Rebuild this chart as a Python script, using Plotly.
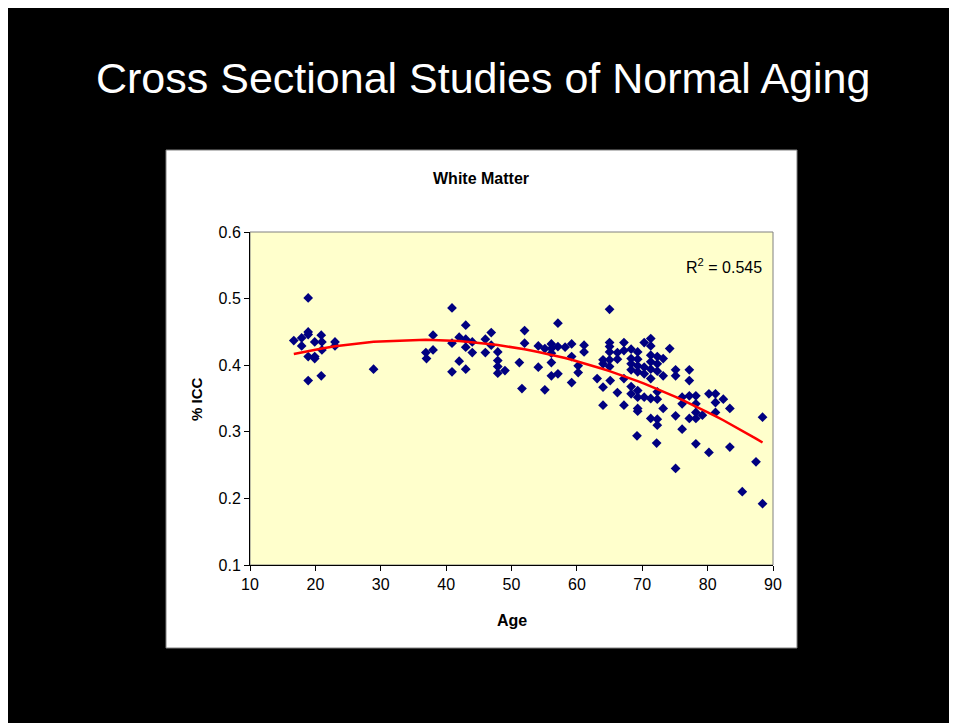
import numpy as np
import plotly.graph_objects as go

# Ages (years) and white matter % ICC
ages = [
    16.7, 17.9, 17.9, 18.9, 18.9, 18.9, 18.9, 18.9, 19.9, 19.9, 19.9, 20.9, 21.0, 21.0, 20.9, 23.0, 23.0, 28.9,
    36.9, 37.0, 38.0, 38.0, 40.9, 40.9, 40.9, 42.0, 42.0, 43.0, 43.0, 43.0, 43.0, 44.0, 44.0, 46.0, 46.0,
    46.9, 46.9, 47.9, 47.9, 47.9, 47.9, 49.0, 51.2, 51.6, 52.0, 52.0, 54.1, 54.1, 55.1, 55.1, 56.1, 56.1,
    56.1, 56.1, 56.1, 57.1, 57.1, 57.1, 58.2, 59.2, 59.2, 59.2, 60.2, 60.2, 61.1, 61.1,
    65.0, 65.0, 65.0, 65.0, 65.0, 64.0, 64.0, 65.0, 66.2, 66.2, 67.2, 67.2, 68.3, 68.3, 68.3, 68.3,
    69.3, 69.3, 69.3, 69.3, 70.3, 70.3, 70.3, 71.3, 71.3, 71.3, 71.3, 71.3, 71.3, 72.3, 72.3, 72.3,
    63.1, 64.0, 65.1, 66.2, 67.2, 64.0, 67.2, 68.3, 68.3, 69.3, 69.3, 70.3, 69.3, 69.3, 71.3, 72.3,
    72.3, 71.3, 72.3, 72.3, 69.2, 72.2,
    74.2, 73.2, 73.2, 75.1, 75.1, 77.2, 77.2, 73.2, 75.1, 76.1, 76.1, 77.2, 77.2, 78.2, 78.2, 78.2,
    78.2, 79.2, 80.2, 81.2, 81.2, 81.2, 82.4, 83.4, 76.1, 78.2, 80.2, 83.4, 75.1, 87.4, 85.3, 88.4, 88.4,
]
icc = [
    0.437, 0.441, 0.429, 0.501, 0.450, 0.446, 0.413, 0.377, 0.435, 0.413, 0.410, 0.445, 0.435, 0.423, 0.384, 0.435, 0.429, 0.394,
    0.419, 0.410, 0.445, 0.423, 0.486, 0.433, 0.390, 0.442, 0.406, 0.460, 0.439, 0.427, 0.394, 0.435, 0.419, 0.439, 0.419,
    0.449, 0.430, 0.420, 0.407, 0.398, 0.388, 0.392, 0.404, 0.365, 0.452, 0.433, 0.429, 0.397, 0.425, 0.363, 0.432, 0.425,
    0.418, 0.404, 0.384, 0.463, 0.428, 0.387, 0.427, 0.432, 0.413, 0.374, 0.399, 0.389, 0.430, 0.420,
    0.484, 0.434, 0.428, 0.420, 0.408, 0.408, 0.402, 0.398, 0.419, 0.409, 0.434, 0.422, 0.424, 0.410, 0.402, 0.393,
    0.420, 0.409, 0.399, 0.390, 0.434, 0.397, 0.387, 0.440, 0.429, 0.415, 0.405, 0.394, 0.380, 0.413, 0.402, 0.391,
    0.380, 0.367, 0.377, 0.359, 0.380, 0.340, 0.340, 0.368, 0.357, 0.362, 0.352, 0.352, 0.335, 0.331, 0.350, 0.360,
    0.349, 0.320, 0.319, 0.310, 0.294, 0.283,
    0.425, 0.410, 0.384, 0.393, 0.384, 0.393, 0.377, 0.335, 0.324, 0.352, 0.342, 0.354, 0.320, 0.354, 0.342, 0.329,
    0.320, 0.325, 0.357, 0.357, 0.344, 0.329, 0.349, 0.335, 0.304, 0.282, 0.269, 0.277, 0.245, 0.255, 0.210, 0.322, 0.192,
]
r_squared = "0.545"

# the page body adds an 8px white margin top/left; work in page pixels
OFF = 8
W, H = 957 - OFF, 723 - OFF
L, R, T, B = 250 - OFF, 773 - OFF, 232 - OFF, 565 - OFF


def px(x):
    return (x - OFF - L) / (R - L)


def py(y):
    return (B - (y - OFF)) / (B - T)


# second-order polynomial trendline, as Excel draws it
coef = np.polyfit(ages, icc, 2)
trend_x = np.sort(np.unique(ages))
trend_y = np.polyval(coef, trend_x)

fig = go.Figure()
fig.add_trace(go.Scatter(
    x=ages, y=icc, mode="markers",
    marker=dict(symbol="diamond", size=7.5, color="#000080", line=dict(width=0)),
    showlegend=False,
))
fig.add_trace(go.Scatter(
    x=trend_x, y=trend_y, mode="lines",
    line=dict(color="#FF0000", width=2.5),
    showlegend=False,
))

font = "Liberation Sans, Arial, sans-serif"
shapes = [
    dict(type="rect", xref="paper", yref="paper", layer="below",
         x0=px(166), x1=px(797), y0=py(150), y1=py(648),
         fillcolor="white", line=dict(color="#808080", width=1)),
    dict(type="rect", xref="paper", yref="paper", layer="below",
         x0=0, x1=1, y0=0, y1=1,
         fillcolor="#FFFFCC", line=dict(color="#808080", width=1)),
]

annotations = [
    dict(text="Cross Sectional Studies of Normal Aging", x=px(483), y=py(78),
         font=dict(size=43, color="white", family=font)),
    dict(text="<b>White Matter</b>", x=px(481), y=py(178),
         font=dict(size=16, color="black", family=font)),
    dict(text="<b>% ICC</b>", x=px(196), y=py(399), textangle=-90,
         font=dict(size=15, color="black", family=font)),
    dict(text="<b>Age</b>", x=px(512), y=py(620),
         font=dict(size=16, color="black", family=font)),
    dict(text="R<sup>2</sup> = " + r_squared, x=px(764), y=py(266), xanchor="right",
         font=dict(size=16, color="black", family=font)),
]
for a in annotations:
    a.setdefault("xanchor", "center")
    a.update(xref="paper", yref="paper", yanchor="middle", showarrow=False)

fig.update_layout(
    width=W, height=H,
    margin=dict(l=L, r=W - R, t=T, b=H - B, pad=0),
    paper_bgcolor="black",
    plot_bgcolor="rgba(0,0,0,0)",
    font=dict(family=font, size=16, color="black"),
    shapes=shapes,
    annotations=annotations,
)
fig.update_xaxes(
    range=[10, 90], dtick=10, tick0=10, showgrid=False, zeroline=False,
    showline=True, linecolor="black", linewidth=1,
    ticks="outside", ticklen=5, tickcolor="black",
)
fig.update_yaxes(
    range=[0.1, 0.6], dtick=0.1, tick0=0.1, tickformat=".1f", showgrid=False, zeroline=False,
    showline=True, linecolor="black", linewidth=1,
    ticks="outside", ticklen=5, tickcolor="black",
)

fig.write_html("out.html")
